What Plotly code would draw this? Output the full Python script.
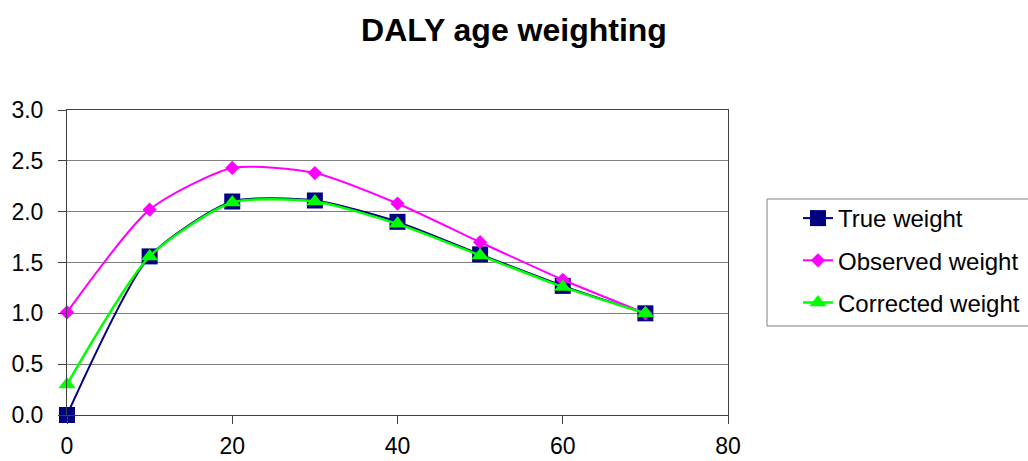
import plotly.graph_objects as go

# Age points and the three weighting curves
ages = [0, 10, 20, 30, 40, 50, 60, 70]
true_weight = [0.00, 1.56, 2.10, 2.11, 1.90, 1.58, 1.27, 1.00]
observed_weight = [1.01, 2.02, 2.43, 2.38, 2.08, 1.70, 1.33, 1.00]
corrected_weight = [0.30, 1.56, 2.09, 2.10, 1.88, 1.57, 1.26, 1.00]

series_names = ["True weight", "Observed weight", "Corrected weight"]
x_ticks = [0, 20, 40, 60, 80]
y_ticks = [0.0, 0.5, 1.0, 1.5, 2.0, 2.5, 3.0]

W, H = 1028, 461
ML, MR, MT, MB = 67, 300, 110, 46
PW = W - ML - MR
PH = H - MT - MB


def px_x(p):
    return (p - ML) / PW


def px_y(p):
    return (H - MB - p) / PH


FONT = "Liberation Sans, Arial, sans-serif"

fig = go.Figure()

styles = [
    dict(color="#000080", symbol="square", size=16, width=2),
    dict(color="#FF00FF", symbol="diamond", size=11, width=2),
    dict(color="#00FF00", symbol="triangle-up", size=15, width=2.5),
]
values = [true_weight, observed_weight, corrected_weight]

for i, (name, ys, st) in enumerate(zip(series_names, values, styles)):
    fig.add_trace(go.Scatter(
        x=ages, y=ys, name=name, mode="lines+markers",
        line=dict(color=st["color"], width=st["width"], shape="spline", smoothing=0.65),
        marker=dict(color=st["color"], symbol=st["symbol"], size=st["size"],
                    line=dict(width=0)),
        legendgroup=f"g{i}", cliponaxis=False,
    ))

# Legend frame
fig.add_shape(type="rect", xref="paper", yref="paper",
              x0=px_x(767), x1=px_x(1045), y0=px_y(326), y1=px_y(199),
              line=dict(color="#808080", width=1), fillcolor="rgba(0,0,0,0)")

fig.update_layout(
    width=W, height=H,
    margin=dict(l=ML, r=MR, t=MT, b=MB, autoexpand=False),
    paper_bgcolor="white", plot_bgcolor="white",
    font=dict(family=FONT, color="black"),
    title=dict(text="<b>DALY age weighting</b>", x=0.5, xref="container",
               y=1 - 30 / H, yanchor="middle", xanchor="center",
               font=dict(size=32, family=FONT, color="black")),
    showlegend=True,
    legend=dict(xref="container", yref="container",
                x=798 / W, y=1 - 196 / H, xanchor="left", yanchor="top",
                bgcolor="rgba(0,0,0,0)", borderwidth=0,
                font=dict(size=24, family=FONT, color="black"),
                traceorder="grouped", tracegroupgap=8),
    xaxis=dict(range=[0, 80], tickvals=x_ticks, ticktext=[str(v) for v in x_ticks],
               showgrid=False, zeroline=False, showline=True, linecolor="#404040",
               linewidth=1, mirror=True, ticks="outside", ticklen=8, tickcolor="#404040",
               tickfont=dict(size=23, family=FONT, color="black"),
               ticklabelstandoff=2, automargin=False),
    yaxis=dict(range=[0, 3], tickvals=y_ticks, ticktext=[f"{v:.1f}" for v in y_ticks],
               showgrid=True, gridcolor="#808080", gridwidth=1, zeroline=False,
               showline=True, linecolor="#404040", linewidth=1, mirror=True,
               ticks="outside", ticklen=8, tickcolor="#404040",
               tickfont=dict(size=23, family=FONT, color="black"),
               ticklabelstandoff=10, automargin=False),
)

fig.write_html("out.html")
